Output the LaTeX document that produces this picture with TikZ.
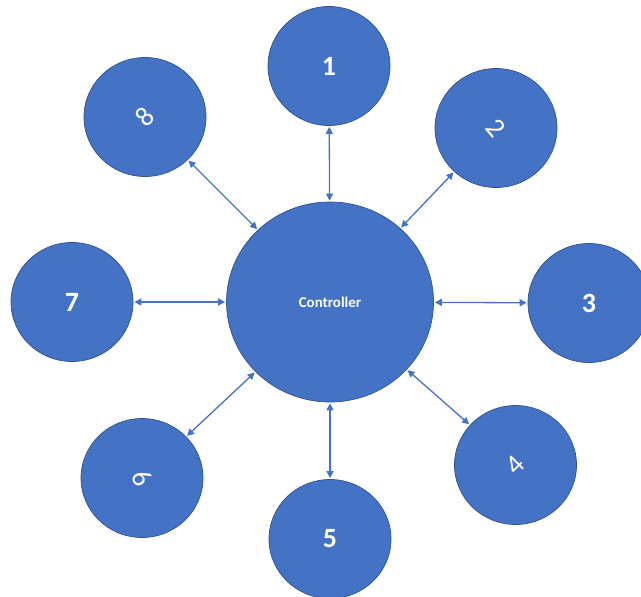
\documentclass[tikz,border=0pt]{standalone}
\usepackage{fontspec}
\setmainfont{Carlito}
\usetikzlibrary{shapes.geometric,arrows.meta}
\definecolor{fillblue}{HTML}{4472C4}
\definecolor{edgeblue}{HTML}{2F528F}
\begin{document}
\begin{tikzpicture}[x=1bp,y=-1bp,
  sat/.style={ellipse, fill=fillblue, draw=edgeblue, line width=0.7bp,
    minimum width=122bp, minimum height=119bp, inner sep=0pt, text=white,
    font=\fontsize{28}{28}\selectfont\bfseries},
  tilted/.style={sat, font=\fontsize{28}{28}\selectfont},
  hub/.style={ellipse, fill=fillblue, draw=edgeblue, line width=0.7bp,
    minimum width=207bp, minimum height=200bp, inner sep=0pt, text=white,
    font=\fontsize{15}{15}\selectfont\bfseries},
  link/.style={draw=fillblue, line width=1.3bp,
    {Triangle[length=7bp,width=7bp]}-{Triangle[length=7bp,width=7bp]},
    shorten >=1bp, shorten <=1bp}
]
\useasboundingbox (0,0) rectangle (641,597);

\node[hub] (c) at (330,302) {Controller};

\node[sat] (n1) at (329,66) {1};
\node[tilted] (n2) at (496,128) {\rotatebox{-50}{2}};
\node[sat] (n3) at (589,303) {3};
\node[tilted] (n4) at (515.5,465) {\rotatebox{45}{4}};
\node[sat] (n5) at (330,539) {5};
\node[tilted] (n6) at (142,478) {\rotatebox{-60}{6}};
\node[sat] (n7) at (72,302) {7};
\node[tilted] (n8) at (145,117) {\rotatebox{45}{8}};

\foreach \n in {n1,n2,n3,n4,n5,n6,n7,n8}
  \draw[link] (c) -- (\n);
\end{tikzpicture}
\end{document}
